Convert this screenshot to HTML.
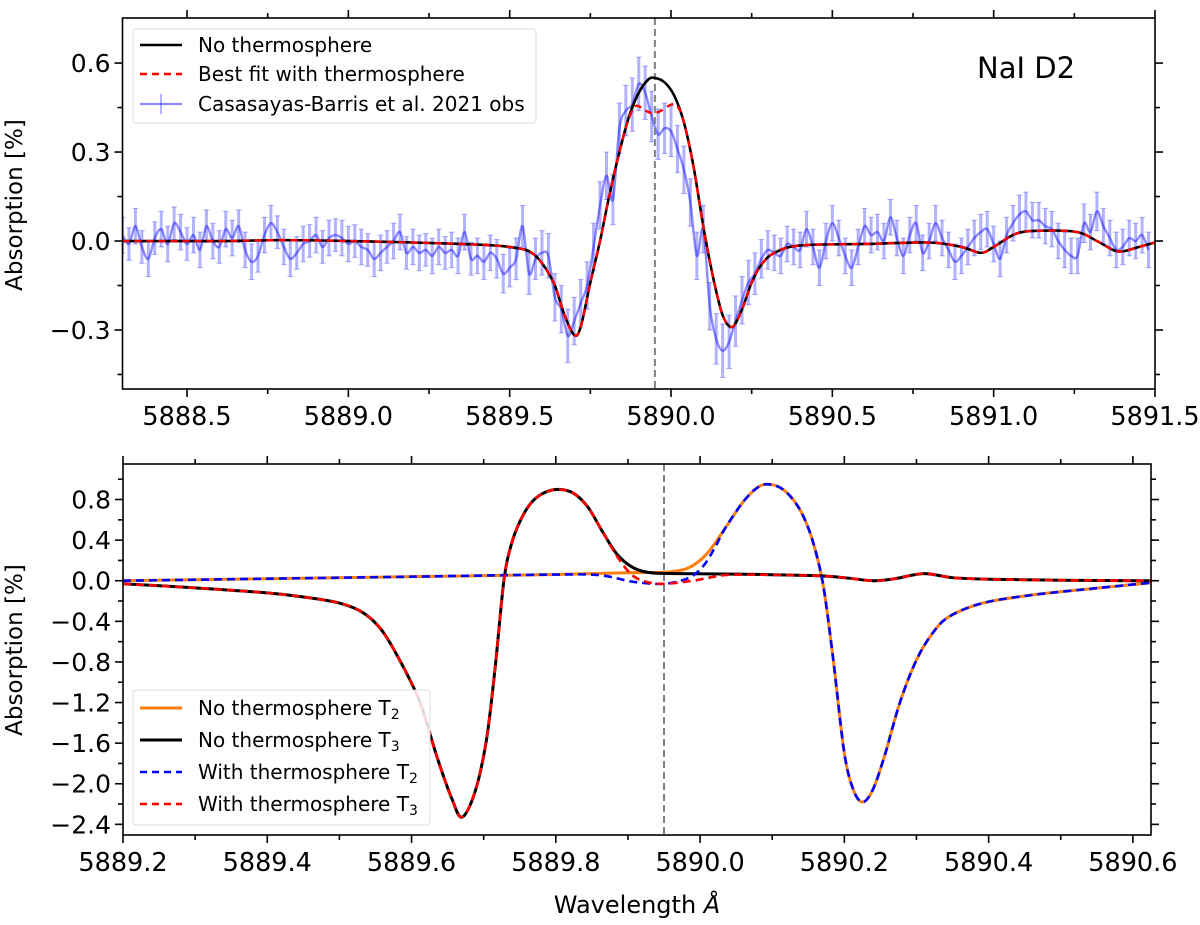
<!DOCTYPE html>
<html><head><meta charset="utf-8"><style>
html,body{margin:0;padding:0;background:#fff;}
svg{display:block;font-family:"DejaVu Sans","Liberation Sans",sans-serif;}
</style></head><body>
<svg id="chart" width="1200" height="925" viewBox="0 0 1200 925" xmlns="http://www.w3.org/2000/svg"></svg>
<script>
// ---- Top panel data ----
const topModelX=[5888.3,5888.6,5888.8,5889.0,5889.2,5889.35,5889.45,5889.5,5889.55,5889.58,5889.61,5889.64,5889.67,5889.70,5889.72,5889.75,5889.78,5889.81,5889.84,5889.87,5889.90,5889.93,5889.95,5889.98,5890.01,5890.04,5890.07,5890.10,5890.13,5890.16,5890.19,5890.22,5890.25,5890.28,5890.32,5890.4,5890.6,5890.8,5890.9,5890.96,5891.0,5891.07,5891.15,5891.26,5891.32,5891.37,5891.40,5891.45,5891.5];
const topModelY=[0,0,0.003,0,-0.005,-0.01,-0.015,-0.02,-0.03,-0.05,-0.09,-0.15,-0.25,-0.317,-0.29,-0.14,0.0,0.16,0.3,0.42,0.5,0.545,0.55,0.535,0.49,0.40,0.25,0.05,-0.12,-0.25,-0.29,-0.23,-0.14,-0.08,-0.04,-0.015,-0.01,-0.005,-0.02,-0.04,-0.02,0.025,0.035,0.03,0.0,-0.03,-0.035,-0.02,-0.005];
const topFitX=[5888.3,5888.6,5888.8,5889.0,5889.2,5889.35,5889.45,5889.5,5889.55,5889.58,5889.61,5889.64,5889.67,5889.70,5889.72,5889.75,5889.78,5889.81,5889.84,5889.865,5889.89,5889.92,5889.945,5889.97,5890.0,5890.02,5890.04,5890.07,5890.10,5890.13,5890.16,5890.19,5890.22,5890.25,5890.28,5890.32,5890.4,5890.6,5890.8,5890.9,5890.96,5891.0,5891.07,5891.15,5891.26,5891.32,5891.37,5891.40,5891.45,5891.5];
const topFitY=[0,0,0.003,0,-0.005,-0.01,-0.015,-0.02,-0.03,-0.05,-0.09,-0.15,-0.25,-0.317,-0.29,-0.14,0.0,0.16,0.3,0.40,0.455,0.44,0.43,0.44,0.46,0.455,0.40,0.25,0.05,-0.12,-0.25,-0.29,-0.23,-0.14,-0.08,-0.04,-0.015,-0.01,-0.005,-0.02,-0.04,-0.02,0.025,0.035,0.03,0.0,-0.03,-0.035,-0.02,-0.005];
const obsStart=5888.30, obsStep=0.02;
const obsY=[0.02,-0.01,0.05,-0.02,-0.06,0.01,0.04,-0.01,0.06,0.03,-0.01,0.02,-0.03,0.05,0.00,-0.02,0.04,0.01,0.05,-0.03,-0.07,-0.05,0.02,0.06,0.03,-0.02,-0.06,-0.04,-0.01,0.00,0.02,-0.02,0.01,0.02,0.01,
-0.01,0.00,-0.02,-0.03,-0.06,-0.04,-0.02,0.00,0.03,-0.04,-0.02,-0.04,-0.03,-0.05,-0.02,-0.04,-0.03,-0.05,0.03,-0.06,-0.05,-0.07,-0.04,-0.06,-0.11,-0.09,-0.06,0.05,-0.11,-0.06,-0.04,-0.05,-0.19,-0.23,-0.32,-0.27,-0.21,-0.15,-0.02,0.12,0.22,0.14,0.38,0.44,0.46,0.53,0.50,0.42,0.36,
0.38,0.37,0.31,0.24,0.13,-0.05,0.04,-0.22,-0.33,-0.37,-0.34,-0.27,-0.20,-0.14,-0.11,-0.06,-0.03,-0.04,-0.05,-0.01,-0.02,-0.03,0.04,-0.02,-0.09,0.00,0.06,0.01,-0.05,-0.09,-0.02,0.05,0.02,0.03,0.00,0.08,0.01,-0.05,0.02,0.06,-0.04,0.00,0.06,0.01,-0.03,-0.07,-0.05,-0.02,0.01,0.03,
0.04,-0.01,-0.06,0.02,0.06,0.09,0.10,0.07,0.07,0.05,0.04,0.00,-0.03,-0.05,-0.05,0.06,0.03,0.10,0.05,0.01,-0.03,-0.02,0.01,0.00,0.02,-0.03];
const obsErr=[0.06,0.055,0.06,0.055,0.06,0.055,0.06,0.06,0.055,0.06,0.055,0.06,0.06,0.055,0.06,0.055,0.06,0.06,0.055,0.06,0.06,0.055,0.06,0.06,0.055,0.06,0.06,0.055,0.06,0.055,0.06,0.055,0.06,0.055,0.06,
0.06,0.055,0.06,0.055,0.06,0.06,0.055,0.06,0.06,0.055,0.06,0.06,0.055,0.06,0.06,0.055,0.06,0.06,0.06,0.055,0.06,0.06,0.06,0.065,0.065,0.065,0.07,0.07,0.07,0.07,0.075,0.075,0.08,0.08,0.09,0.08,0.08,0.08,0.08,0.08,0.08,0.085,0.085,0.085,0.09,0.09,0.09,0.085,0.085,
0.085,0.085,0.08,0.08,0.08,0.08,0.08,0.08,0.085,0.09,0.09,0.085,0.08,0.075,0.07,0.065,0.065,0.06,0.06,0.06,0.06,0.06,0.06,0.06,0.06,0.06,0.06,0.06,0.06,0.06,0.06,0.06,0.06,0.06,0.06,0.06,0.06,0.06,0.06,0.06,0.06,0.06,0.06,0.06,0.06,0.06,0.06,0.06,0.06,0.06,
0.06,0.06,0.06,0.06,0.06,0.065,0.065,0.06,0.06,0.06,0.06,0.06,0.06,0.06,0.06,0.065,0.06,0.065,0.06,0.06,0.06,0.06,0.06,0.06,0.06,0.06];
const topXTicks=[5888.5,5889.0,5889.5,5890.0,5890.5,5891.0,5891.5];
const topXTickLabels=["5888.5","5889.0","5889.5","5890.0","5890.5","5891.0","5891.5"];
const topYTicks=[-0.3,0.0,0.3,0.6];
const topYTickLabels=["\u22120.3","0.0","0.3","0.6"];
const centerLine=5889.95;
// ---- Bottom panel data ----
const noT3X=[5889.2,5889.3,5889.4,5889.45,5889.5,5889.534,5889.561,5889.593,5889.614,5889.635,5889.656,5889.67,5889.688,5889.704,5889.716,5889.728,5889.738,5889.75,5889.765,5889.782,5889.803,5889.825,5889.845,5889.865,5889.885,5889.907,5889.93,5889.97,5890.05,5890.16,5890.2,5890.24,5890.27,5890.31,5890.35,5890.4,5890.5,5890.625];
const noT3Y=[-0.03,-0.07,-0.12,-0.16,-0.22,-0.32,-0.51,-0.91,-1.24,-1.73,-2.15,-2.33,-2.08,-1.56,-0.85,0.0,0.35,0.58,0.76,0.86,0.90,0.86,0.72,0.48,0.26,0.13,0.08,0.07,0.065,0.05,0.03,0.0,0.02,0.07,0.03,0.015,0.005,0.0];
const withT3X=[5889.2,5889.3,5889.4,5889.45,5889.5,5889.534,5889.561,5889.593,5889.614,5889.635,5889.656,5889.67,5889.688,5889.704,5889.716,5889.728,5889.738,5889.75,5889.765,5889.782,5889.803,5889.825,5889.845,5889.865,5889.885,5889.905,5889.925,5889.95,5889.99,5890.02,5890.05,5890.16,5890.2,5890.24,5890.27,5890.31,5890.35,5890.4,5890.5,5890.625];
const withT3Y=[-0.03,-0.07,-0.12,-0.16,-0.22,-0.32,-0.51,-0.91,-1.24,-1.73,-2.15,-2.33,-2.08,-1.56,-0.85,0.0,0.35,0.58,0.76,0.86,0.90,0.86,0.72,0.48,0.24,0.06,-0.01,-0.03,0.0,0.04,0.06,0.05,0.03,0.0,0.02,0.07,0.03,0.015,0.005,0.0];
const noT2X=[5889.2,5889.4,5889.6,5889.79,5889.907,5889.954,5889.985,5890.01,5890.035,5890.06,5890.08,5890.095,5890.115,5890.135,5890.15,5890.162,5890.172,5890.185,5890.2,5890.213,5890.226,5890.24,5890.256,5890.277,5890.3,5890.323,5890.346,5890.392,5890.461,5890.554,5890.625];
const noT2Y=[0.0,0.02,0.04,0.06,0.08,0.085,0.13,0.27,0.52,0.78,0.92,0.95,0.90,0.74,0.52,0.24,-0.1,-0.8,-1.7,-2.07,-2.18,-2.05,-1.72,-1.2,-0.78,-0.51,-0.35,-0.22,-0.14,-0.07,-0.02];
const withT2X=[5889.2,5889.4,5889.6,5889.79,5889.86,5889.907,5889.95,5889.985,5890.005,5890.02,5890.035,5890.06,5890.08,5890.095,5890.115,5890.135,5890.15,5890.162,5890.172,5890.185,5890.2,5890.213,5890.226,5890.24,5890.256,5890.277,5890.3,5890.323,5890.346,5890.392,5890.461,5890.554,5890.625];
const withT2Y=[0.0,0.02,0.04,0.06,0.055,-0.01,-0.03,0.03,0.15,0.32,0.52,0.78,0.92,0.95,0.90,0.74,0.52,0.24,-0.1,-0.8,-1.7,-2.07,-2.18,-2.05,-1.72,-1.2,-0.78,-0.51,-0.35,-0.22,-0.14,-0.07,-0.02];
const botXTicks=[5889.2,5889.4,5889.6,5889.8,5890.0,5890.2,5890.4,5890.6];
const botXTickLabels=["5889.2","5889.4","5889.6","5889.8","5890.0","5890.2","5890.4","5890.6"];
const botYTicks=[-2.4,-2.0,-1.6,-1.2,-0.8,-0.4,0.0,0.4,0.8];
const botYTickLabels=["\u22122.4","\u22122.0","\u22121.6","\u22121.2","\u22120.8","\u22120.4","0.0","0.4","0.8"];

const NS="http://www.w3.org/2000/svg";
const svg=document.getElementById('chart');
function mk(tag,attrs,parent){const e=document.createElementNS(NS,tag);for(const k in attrs)e.setAttribute(k,attrs[k]);(parent||svg).appendChild(e);return e;}

const T={l:122.5,r:1155,t:18,b:389,x0:5888.3,x1:5891.5,y0:-0.499,y1:0.752};
const B={l:123,r:1151,t:464,b:835,x0:5889.2,x1:5890.6251,y0:-2.505,y1:1.15};
function sx(P,v){return P.l+(v-P.x0)/(P.x1-P.x0)*(P.r-P.l);}
function sy(P,v){return P.b-(v-P.y0)/(P.y1-P.y0)*(P.b-P.t);}
function spline(P,xs,ys){
  const pts=xs.map((x,i)=>[sx(P,x),sy(P,ys[i])]);
  let d='M'+pts[0][0].toFixed(2)+','+pts[0][1].toFixed(2);
  for(let i=0;i<pts.length-1;i++){
    const p0=pts[Math.max(0,i-1)],p1=pts[i],p2=pts[i+1],p3=pts[Math.min(pts.length-1,i+2)];
    const t=0.16;
    const c1=[p1[0]+(p2[0]-p0[0])*t,p1[1]+(p2[1]-p0[1])*t];
    const c2=[p2[0]-(p3[0]-p1[0])*t,p2[1]-(p3[1]-p1[1])*t];
    d+=' C'+c1[0].toFixed(2)+','+c1[1].toFixed(2)+' '+c2[0].toFixed(2)+','+c2[1].toFixed(2)+' '+p2[0].toFixed(2)+','+p2[1].toFixed(2);
  }
  return d;
}
function clip(id,P){const c=mk('clipPath',{id:id});mk('rect',{x:P.l,y:P.t,width:P.r-P.l,height:P.b-P.t},c);}
clip('ct',T);clip('cb',B);

function axes(P,name,xt,xl,xminor,yt,yl,yminor){
  const g=mk('g',{});
  
  
  const sty={stroke:'#000','stroke-width':1.6};
  xt.forEach((v,i)=>{const x=sx(P,v);
    mk('line',Object.assign({x1:x,x2:x,y1:P.b,y2:P.b+8},sty),g);
    mk('line',Object.assign({x1:x,x2:x,y1:P.t,y2:P.t-8},sty),g);
    const t=mk('text',{x:x,y:P.b+36,'text-anchor':'middle','font-size':25.5,fill:'#000'},g);t.textContent=xl[i];
    });
  xminor.forEach(v=>{const x=sx(P,v);
    mk('line',Object.assign({x1:x,x2:x,y1:P.b,y2:P.b+5},sty),g);
    mk('line',Object.assign({x1:x,x2:x,y1:P.t,y2:P.t-5},sty),g);});
  yt.forEach((v,i)=>{const y=sy(P,v);
    mk('line',Object.assign({x1:P.l-8,x2:P.l,y1:y,y2:y},sty),g);
    mk('line',Object.assign({x1:P.r,x2:P.r+8,y1:y,y2:y},sty),g);
    const t=mk('text',{x:P.l-12,y:y+9,'text-anchor':'end','font-size':25,fill:'#000'},g);t.textContent=yl[i];
    });
  yminor.forEach(v=>{const y=sy(P,v);
    mk('line',Object.assign({x1:P.l-5,x2:P.l,y1:y,y2:y},sty),g);
    mk('line',Object.assign({x1:P.r,x2:P.r+5,y1:y,y2:y},sty),g);});
  mk('rect',{x:P.l,y:P.t,width:P.r-P.l,height:P.b-P.t,fill:'none',stroke:'#000','stroke-width':1.6},g);
}

// ---- top panel ----
const tg=mk('g',{'clip-path':'url(#ct)'});


const eb=mk('g',{stroke:'#0000ff','stroke-opacity':0.3,'stroke-width':3},tg);


const ox=[],oy=[];
obsY.forEach((v,i)=>{const lam=obsStart+i*obsStep;const x=sx(T,lam);
  const y1=sy(T,v-obsErr[i]),y2=sy(T,v+obsErr[i]);
  mk('line',{x1:x,x2:x,y1:y1,y2:y2},eb);
  mk('line',{x1:x-3,x2:x+3,y1:y1,y2:y1,'stroke-width':1},eb);
  mk('line',{x1:x-3,x2:x+3,y1:y2,y2:y2,'stroke-width':1},eb);
  ox.push(lam);oy.push(v);});
const obsLine=mk('path',{d:spline(T,ox,oy),fill:'none',stroke:'#0000ff','stroke-opacity':0.45,'stroke-width':2.4},tg);


const vl=mk('line',{x1:sx(T,centerLine),x2:sx(T,centerLine),y1:T.t,y2:T.b,stroke:'#808080','stroke-width':2,'stroke-dasharray':'7,4'},tg);


const m1=mk('path',{d:spline(T,topModelX,topModelY),fill:'none',stroke:'#000','stroke-width':2.6},tg);


const m2=mk('path',{d:spline(T,topFitX,topFitY),fill:'none',stroke:'#ff0000','stroke-width':2.4,'stroke-dasharray':'7,5'},tg);


axes(T,'top',topXTicks,topXTickLabels,[5888.75,5889.25,5889.75,5890.25,5890.75,5891.25],topYTicks,topYTickLabels,[-0.45,-0.15,0.15,0.45]);

// ---- bottom panel ----
const bg=mk('g',{'clip-path':'url(#cb)'});


const vl2=mk('line',{x1:sx(B,centerLine),x2:sx(B,centerLine),y1:B.t,y2:B.b,stroke:'#808080','stroke-width':2,'stroke-dasharray':'7,4'},bg);


const b1=mk('path',{d:spline(B,noT2X,noT2Y),fill:'none',stroke:'#ff7f0e','stroke-width':3},bg);


const b2=mk('path',{d:spline(B,noT3X,noT3Y),fill:'none',stroke:'#000','stroke-width':3},bg);


const b3=mk('path',{d:spline(B,withT2X,withT2Y),fill:'none',stroke:'#0000ff','stroke-width':2.6,'stroke-dasharray':'8,5'},bg);


const b4=mk('path',{d:spline(B,withT3X,withT3Y),fill:'none',stroke:'#ff0000','stroke-width':2.6,'stroke-dasharray':'8,5'},bg);


axes(B,'bottom',botXTicks,botXTickLabels,[5889.3,5889.5,5889.7,5889.9,5890.1,5890.3,5890.5],botYTicks,botYTickLabels,[-2.2,-1.8,-1.4,-1.0,-0.6,-0.2,0.2,0.6,1.0]);
</script>
<svg width="1200" height="925" style="position:absolute;left:0;top:0" xmlns="http://www.w3.org/2000/svg">
<g font-family="DejaVu Sans, Liberation Sans, sans-serif">
<text x="22" y="205" font-size="23" text-anchor="middle" transform="rotate(-90 22 205)">Absorption [%]</text>
<text x="22" y="650" font-size="23" text-anchor="middle" transform="rotate(-90 22 650)">Absorption [%]</text>
<text x="637" y="913" font-size="24" text-anchor="middle">Wavelength <tspan font-style="italic">Å</tspan></text>
<text x="977" y="78" font-size="29">NaI D2</text>
<g>
<rect x="133" y="29" width="403" height="94" rx="3" fill="#fff" fill-opacity="0.85" stroke="#ddd" stroke-width="1"/>
<line x1="140" y1="45" x2="182" y2="45" stroke="#000" stroke-width="2.4"/>
<text x="198" y="52" font-size="20">No thermosphere</text>
<line x1="140" y1="74" x2="182" y2="74" stroke="#f00" stroke-width="2.4" stroke-dasharray="7,5"/>
<text x="198" y="81" font-size="20">Best fit with thermosphere</text>
<line x1="140" y1="104" x2="182" y2="104" stroke="#00f" stroke-opacity="0.45" stroke-width="2.2"/>
<line x1="161" y1="94" x2="161" y2="114" stroke="#00f" stroke-opacity="0.45" stroke-width="1.3"/>
<text x="198" y="111" font-size="20">Casasayas-Barris et al. 2021 obs</text>
</g>
<g>
<rect x="133" y="690" width="297" height="135" rx="3" fill="#fff" fill-opacity="0.85" stroke="#ddd" stroke-width="1"/>
<line x1="140" y1="708" x2="182" y2="708" stroke="#ff7f0e" stroke-width="3"/>
<text x="198" y="715" font-size="20">No thermosphere T<tspan font-size="14" dy="4">2</tspan></text>
<line x1="140" y1="740" x2="182" y2="740" stroke="#000" stroke-width="3"/>
<text x="198" y="747" font-size="20">No thermosphere T<tspan font-size="14" dy="4">3</tspan></text>
<line x1="140" y1="772" x2="182" y2="772" stroke="#00f" stroke-width="2.6" stroke-dasharray="7,5"/>
<text x="198" y="779" font-size="20">With thermosphere T<tspan font-size="14" dy="4">2</tspan></text>
<line x1="140" y1="804" x2="182" y2="804" stroke="#f00" stroke-width="2.6" stroke-dasharray="7,5"/>
<text x="198" y="811" font-size="20">With thermosphere T<tspan font-size="14" dy="4">3</tspan></text>
</g>
</g>
</svg>
</body></html>
